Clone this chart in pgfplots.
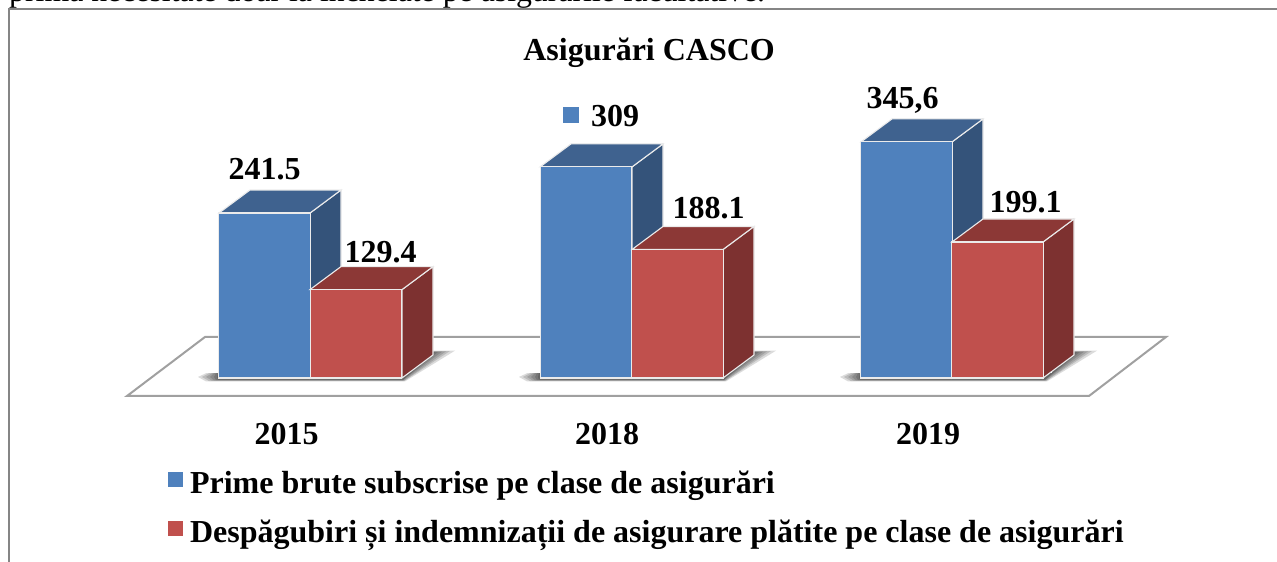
\documentclass[border=0pt]{standalone}
\usepackage{pgfplots}
\usepackage{pgfplotstable}
\usepackage{fontspec}
\pgfplotsset{compat=1.18}
\setmainfont{Liberation Serif}
\definecolor{bluef}{HTML}{4F81BD}
\definecolor{bluet}{HTML}{3F628F}
\definecolor{blues}{HTML}{34537A}
\definecolor{redf}{HTML}{C0504D}
\definecolor{redt}{HTML}{8C3836}
\definecolor{reds}{HTML}{7D3130}
\definecolor{floorgray}{HTML}{A0A0A0}
\definecolor{framegray}{HTML}{858585}
\newcommand{\lab}{\fontsize{32}{38}\selectfont\bfseries}
\pgfplotstableread{
xa ya xb yb xc yc xd yd xe ye xf yf
198 1.5 202 1.5 206 1.5 210 1.5 214 1.5 217 1.5
206 7 209 7 212 7 214 7 216 7 218 7
410 7 410 7 410 7 410 7 410 7 410 7
410 40 410 39.5 410 39 410 38.5 410 38 410 37.5
455 40 450 39.5 446 39 442 38.5 438 38 435 37.5
405 -5 404 -4.5 404 -4 403 -3.5 403 -3 403 -2.5
206 -5 209 -4.5 212 -4 214 -3.5 216 -3 218 -2.5
}\shadowtable
\pgfplotsset{
  face/.style={forget plot,no markers,line width=1.1pt,draw=white!92!black,fill=#1},
  shad/.style={forget plot,no markers,draw=none,fill=black,fill opacity=0.14},
}
\begin{document}
\begin{tikzpicture}
\clip[use as bounding box] (0,0) rectangle (1277pt,562pt);
\begin{axis}[
  at={(0,0)},anchor=south west,
  scale only axis,width=1277pt,height=562pt,
  xmin=0,xmax=1277,ymin=-269.4,ymax=553.4,
  axis x line=middle,axis y line=none,
  axis line style={draw=none},
  tick style={draw=none},
  xtick={286.5,607,928},
  xticklabels={\lab 2015,\lab 2018,\lab 2019},
  xticklabel style={yshift=-40pt},
  ytick=\empty,
  clip=false,
  title={\lab Asigurări CASCO},
  title style={at={(axis description cs:0.5083,0.8947)},anchor=center},
  legend cell align=left,
  legend style={at={(axis description cs:0.1316,0.1658)},anchor=north west,draw=none,fill=none,
    font=\lab,row sep=21pt,inner sep=0pt,outer sep=0pt,
    /tikz/every odd column/.append style={column sep=5pt}},
  legend image code/.code={\fill[#1,draw=none] (0pt,-4pt) rectangle (15pt,11pt);},
]
% floor
\addplot[forget plot,no markers,fill=white,draw=floorgray,line width=2pt] coordinates {(127,-26.35)(1089,-26.35)(1166,60.03)(205,60.03)} --cycle;
% shadows
\pgfplotsinvokeforeach{0,321,642}{
  \addplot[shad] table[x expr=\thisrow{xa}+#1,y=ya]{\shadowtable} --cycle;
  \addplot[shad] table[x expr=\thisrow{xb}+#1,y=yb]{\shadowtable} --cycle;
  \addplot[shad] table[x expr=\thisrow{xc}+#1,y=yc]{\shadowtable} --cycle;
  \addplot[shad] table[x expr=\thisrow{xd}+#1,y=yd]{\shadowtable} --cycle;
  \addplot[shad] table[x expr=\thisrow{xe}+#1,y=ye]{\shadowtable} --cycle;
  \addplot[shad] table[x expr=\thisrow{xf}+#1,y=yf]{\shadowtable} --cycle;
}
% blue sides and tops
\addplot[face=blues] coordinates {(310,0)(341,33.7)(341,275.2)(310,241.5)} --cycle;
\addplot[face=bluet] coordinates {(219,241.5)(310,241.5)(341,275.2)(250,275.2)} --cycle;
\addplot[face=blues] coordinates {(632,0)(663,33.7)(663,342.7)(632,309)} --cycle;
\addplot[face=bluet] coordinates {(540,309)(632,309)(663,342.7)(571,342.7)} --cycle;
\addplot[face=blues] coordinates {(952,0)(983,33.7)(983,379.3)(952,345.6)} --cycle;
\addplot[face=bluet] coordinates {(861,345.6)(952,345.6)(983,379.3)(892,379.3)} --cycle;
% blue fronts
\addplot[ybar,bar shift=0pt,bar width=91.5pt,fill=bluef,draw=white!92!black,line width=1.1pt]
  coordinates {(264.5,241.5)(586,309)(906.5,345.6)};
\addlegendentry{Prime brute subscrise pe clase de asigurări}
% red sides and tops
\addplot[face=reds] coordinates {(402,0)(433,33.7)(433,163.1)(402,129.4)} --cycle;
\addplot[face=redt] coordinates {(310,129.4)(402,129.4)(433,163.1)(341,163.1)} --cycle;
\addplot[face=reds] coordinates {(723,0)(754,33.7)(754,221.8)(723,188.1)} --cycle;
\addplot[face=redt] coordinates {(632,188.1)(723,188.1)(754,221.8)(663,221.8)} --cycle;
\addplot[face=reds] coordinates {(1043,0)(1074,33.7)(1074,232.8)(1043,199.1)} --cycle;
\addplot[face=redt] coordinates {(952,199.1)(1043,199.1)(1074,232.8)(983,232.8)} --cycle;
% red fronts
\addplot[ybar,bar shift=0pt,bar width=91.5pt,fill=redf,draw=white!92!black,line width=1.1pt]
  coordinates {(356,129.4)(677.5,188.1)(997.5,199.1)};
\addlegendentry{Despăgubiri și indemnizații de asigurare plătite pe clase de asigurări}
% stray legend key beside the 309 label
\addplot[forget plot,only marks,mark=square*,mark size=7.5pt,color=bluef,mark options={draw=none}] coordinates {(570.5,385.1)};
% value labels
\node[anchor=base,font=\lab] at (axis cs:264.5,289.9) {241.5};
\node[anchor=base,font=\lab] at (axis cs:380.5,169.8) {129.4};
\node[anchor=base,font=\lab] at (axis cs:615,367.5) {309};
\node[anchor=base,font=\lab] at (axis cs:708.5,232.8) {188.1};
\node[anchor=base,font=\lab] at (axis cs:902.5,393.9) {345,6};
\node[anchor=base,font=\lab] at (axis cs:1025.5,243.0) {199.1};
% frame of the chart
\draw[framegray,line width=1.6pt] (axis cs:9,-269.4) -- (axis cs:9,540.2) -- (axis cs:1277,540.2);
% line of body text above the chart, cut by the crop
\node[anchor=base west,inner sep=0pt,font=\fontsize{31.8}{38}\selectfont] at (axis cs:9,551) {prima necesitate doar la încheiate pe asigurările facultative.};
\end{axis}
\end{tikzpicture}
\end{document}
